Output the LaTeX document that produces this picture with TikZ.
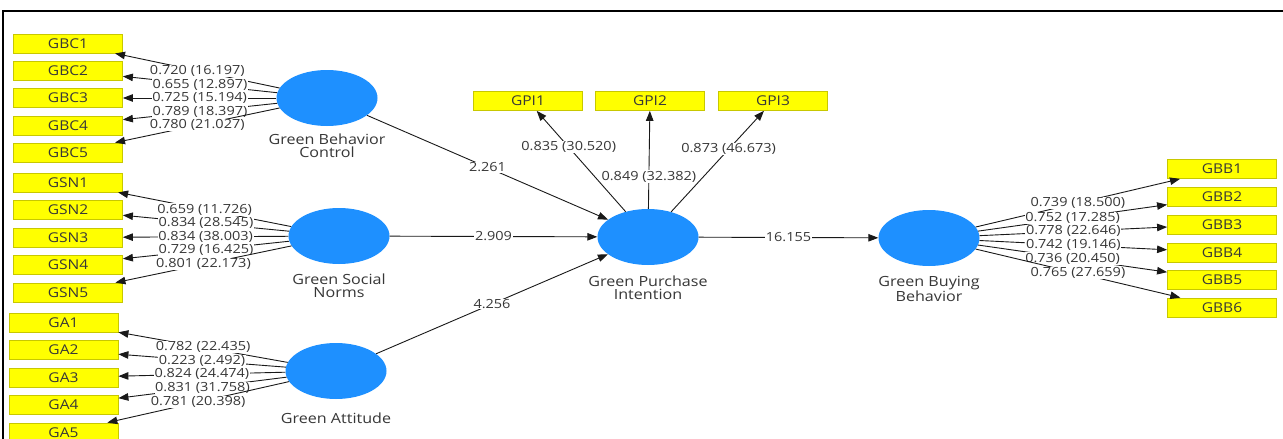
\documentclass[tikz,border=0pt]{standalone}
\usepackage{fontspec}
\setmainfont{Open Sans}[FakeStretch=1.15]
\usetikzlibrary{arrows.meta,shapes.geometric}
\definecolor{indfill}{RGB}{255,255,0}
\definecolor{indborder}{RGB}{200,200,0}
\definecolor{lvblue}{RGB}{30,144,255}
\definecolor{labtext}{RGB}{55,55,55}
\definecolor{linec}{RGB}{25,25,25}
\begin{document}
\begin{tikzpicture}[x=1pt,y=-1pt,
  ind/.style={draw=indborder, line width=0.8pt, fill=indfill, minimum width=109pt, minimum height=19pt, inner sep=0pt, font=\fontsize{13.5}{14}\selectfont, text=labtext},
  lv/.style={ellipse, fill=lvblue, draw=none, minimum width=101pt, minimum height=56pt, inner sep=0pt},
  lvlab/.style={font=\fontsize{14}{13.5}\selectfont, text=labtext, align=center},
  arr/.style={draw=linec, line width=0.9pt, -{Triangle[length=10pt,width=7.5pt]}},
  wl/.style={fill=white, inner sep=0.6pt, font=\fontsize{12.6}{13}\selectfont, text=labtext}
]
\useasboundingbox (0,0) rectangle (1283,439);
\fill[white] (0,0) rectangle (1283,439);
\draw[line width=1.5pt] (3,439) -- (3,11) -- (1283,11);

% latent variables
\node[lv] (gbc) at (327,98) {};
\node[lv] (gsn) at (339,236) {};
\node[lv] (ga)  at (336,371) {};
\node[lv] (gpi) at (648,237) {};
\node[lv] (gbb) at (929,238) {};

\node[lvlab, anchor=north] (gbcl) at (327,130) {Green Behavior\\Control};
\node[lvlab, anchor=north] (gsnl) at (339,270) {Green Social\\Norms};
\node[lvlab, anchor=north] (gal)  at (336,409) {Green Attitude};
\node[lvlab, anchor=north] (gpil) at (648,272) {Green Purchase\\Intention};
\node[lvlab, anchor=north] (gbbl) at (929,273) {Green Buying\\Behavior};

% indicators
\node[ind] (gbc1) at (68,43.5) {GBC1};
\node[ind] (gbc2) at (68,70.5) {GBC2};
\node[ind] (gbc3) at (68,98) {GBC3};
\node[ind] (gbc4) at (68,125.5) {GBC4};
\node[ind] (gbc5) at (68,152.5) {GBC5};

\node[ind] (gsn1) at (68,182.5) {GSN1};
\node[ind] (gsn2) at (68,210) {GSN2};
\node[ind] (gsn3) at (68,237.5) {GSN3};
\node[ind] (gsn4) at (68,264.5) {GSN4};
\node[ind] (gsn5) at (68,292.5) {GSN5};

\node[ind] (ga1) at (63.5,322.5) {GA1};
\node[ind] (ga2) at (63.5,350) {GA2};
\node[ind] (ga3) at (63.5,377.5) {GA3};
\node[ind] (ga4) at (63.5,405) {GA4};
\node[ind] (ga5) at (63.5,432.5) {GA5};

\node[ind] (gpi1) at (528,101) {GPI1};
\node[ind] (gpi2) at (650,101) {GPI2};
\node[ind] (gpi3) at (773,101) {GPI3};

\node[ind] (gbb1) at (1222,169) {GBB1};
\node[ind] (gbb2) at (1222,197) {GBB2};
\node[ind] (gbb3) at (1222,224.5) {GBB3};
\node[ind] (gbb4) at (1222,252.5) {GBB4};
\node[ind] (gbb5) at (1222,280) {GBB5};
\node[ind] (gbb6) at (1222,307.5) {GBB6};

% outer loadings GBC
\draw[arr] (gbc) -- node[wl]{0.720 (16.197)} (gbc1);
\draw[arr] (gbc) -- node[wl]{0.655 (12.897)} (gbc2);
\draw[arr] (gbc) -- node[wl]{0.725 (15.194)} (gbc3);
\draw[arr] (gbc) -- node[wl]{0.789 (18.397)} (gbc4);
\draw[arr] (gbc) -- node[wl]{0.780 (21.027)} (gbc5);

% GSN
\draw[arr] (gsn) -- node[wl]{0.659 (11.726)} (gsn1);
\draw[arr] (gsn) -- node[wl]{0.834 (28.545)} (gsn2);
\draw[arr] (gsn) -- node[wl]{0.834 (38.003)} (gsn3);
\draw[arr] (gsn) -- node[wl]{0.729 (16.425)} (gsn4);
\draw[arr] (gsn) -- node[wl]{0.801 (22.173)} (gsn5);

% GA
\draw[arr] (ga) -- node[wl]{0.782 (22.435)} (ga1);
\draw[arr] (ga) -- node[wl]{0.223 (2.492)} (ga2);
\draw[arr] (ga) -- node[wl]{0.824 (24.474)} (ga3);
\draw[arr] (ga) -- node[wl]{0.831 (31.758)} (ga4);
\draw[arr] (ga) -- node[wl]{0.781 (20.398)} (ga5);

% GPI
\draw[arr] (gpi) -- node[wl, pos=0.64]{0.835 (30.520)} (gpi1);
\draw[arr] (gpi) -- node[wl, pos=0.33]{0.849 (32.382)} (gpi2);
\draw[arr] (gpi) -- node[wl, pos=0.62]{0.873 (46.673)} (gpi3);

% GBB
\draw[arr] (gbb) -- node[wl]{0.739 (18.500)} (gbb1);
\draw[arr] (gbb) -- node[wl]{0.752 (17.285)} (gbb2);
\draw[arr] (gbb) -- node[wl]{0.778 (22.646)} (gbb3);
\draw[arr] (gbb) -- node[wl]{0.742 (19.146)} (gbb4);
\draw[arr] (gbb) -- node[wl]{0.736 (20.450)} (gbb5);
\draw[arr] (gbb) -- node[wl]{0.765 (27.659)} (gbb6);

% inner model
\draw[arr] (gbc) -- node[wl]{2.261} (gpi);
\draw[arr] (gsn) -- node[wl]{2.909} (gpi);
\draw[arr] (ga)  -- node[wl]{4.256} (gpi);
\draw[arr] (gpi) -- node[wl]{16.155} (gbb);
\end{tikzpicture}
\end{document}
